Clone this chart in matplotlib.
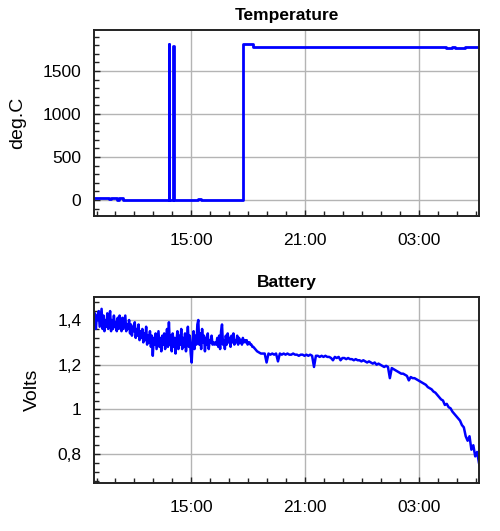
import matplotlib
matplotlib.use('Agg')

import pandas as pd
import matplotlib.pyplot as plt
import matplotlib.dates as mdates
from matplotlib.ticker import AutoMinorLocator, FuncFormatter

plt.rcParams['font.family'] = ['Liberation Sans', 'DejaVu Sans']

# Temperatura (escalones), hora de cada cambio y valor en deg.C
temp_times = ['2010-03-01 09:52', '2010-03-01 10:40', '2010-03-01 10:45', '2010-03-01 11:05',
              '2010-03-01 11:10', '2010-03-01 11:24', '2010-03-01 13:49', '2010-03-01 13:50',
              '2010-03-01 14:03', '2010-03-01 14:04', '2010-03-01 15:22', '2010-03-01 15:30',
              '2010-03-01 17:44', '2010-03-01 18:15', '2010-03-02 04:25', '2010-03-02 04:45',
              '2010-03-02 04:55', '2010-03-02 05:25', '2010-03-02 06:12']
temp_vals = [22, 8, 22, 4, 20, 0, 1810, 0, 1795, 0, 15, 0, 1810, 1785, 1765, 1780, 1765, 1785, 1785]

# Bateria: tramo ruidoso, una lectura cada 3 minutos desde las 09:52
volts_a = [
    1.38, 1.43, 1.36, 1.42, 1.40, 1.44, 1.37, 1.41, 1.45, 1.36,
    1.42, 1.35, 1.40, 1.37, 1.43, 1.36, 1.41, 1.44, 1.35, 1.40,
    1.36, 1.42, 1.37, 1.39, 1.35, 1.41, 1.36, 1.42, 1.38, 1.35,
    1.41, 1.36, 1.39, 1.42, 1.35, 1.38, 1.36, 1.40, 1.34, 1.38,
    1.33, 1.37, 1.35, 1.39, 1.32, 1.36, 1.33, 1.38, 1.31, 1.35,
    1.32, 1.36, 1.30, 1.34, 1.31, 1.37, 1.29, 1.33, 1.30, 1.35,
    1.28, 1.33, 1.24, 1.32, 1.29, 1.34, 1.27, 1.31, 1.35, 1.28,
    1.32, 1.26, 1.33, 1.29, 1.34, 1.27, 1.31, 1.36, 1.28, 1.39,
    1.29, 1.33, 1.26, 1.34, 1.28, 1.32, 1.25, 1.31, 1.35, 1.27,
    1.33, 1.29, 1.36, 1.27, 1.32, 1.28, 1.34, 1.26, 1.31, 1.37,
    1.28, 1.33, 1.25, 1.21, 1.30, 1.35, 1.27, 1.33, 1.29, 1.38,
    1.40, 1.29, 1.34, 1.27, 1.36, 1.30, 1.33, 1.26, 1.32, 1.29,
    1.34, 1.27, 1.31, 1.30, 1.33, 1.29, 1.30, 1.29, 1.30, 1.29,
    1.32, 1.28, 1.33, 1.27, 1.35, 1.38, 1.29, 1.31, 1.27, 1.33,
    1.29, 1.34, 1.30, 1.32, 1.28, 1.33, 1.30, 1.34, 1.29, 1.31,
    1.30, 1.33, 1.29, 1.32, 1.30, 1.31, 1.29, 1.32, 1.30, 1.31,
    1.30, 1.31, 1.29, 1.30, 1.30, 1.29, 1.29, 1.28,
]
# Bateria: tramo suave, una lectura cada 6 minutos desde las 18:16
volts_b = [
    1.28, 1.27, 1.26, 1.255, 1.25, 1.25,
    1.25, 1.21, 1.25, 1.245, 1.25, 1.245, 1.25, 1.215, 1.25, 1.245,
    1.25, 1.245, 1.25, 1.245, 1.245, 1.25, 1.245, 1.245, 1.24, 1.245,
    1.245, 1.24, 1.245, 1.24, 1.245, 1.24, 1.19, 1.24, 1.24, 1.235,
    1.24, 1.235, 1.24, 1.235, 1.235, 1.23, 1.22, 1.235, 1.23, 1.235,
    1.22, 1.23, 1.23, 1.225, 1.23, 1.225, 1.225, 1.22, 1.225, 1.22,
    1.22, 1.215, 1.22, 1.215, 1.21, 1.215, 1.21, 1.205, 1.21, 1.20,
    1.205, 1.20, 1.195, 1.19, 1.195, 1.19, 1.14, 1.185, 1.18, 1.175,
    1.17, 1.165, 1.16, 1.16, 1.155, 1.15, 1.13, 1.145, 1.14, 1.14,
    1.135, 1.13, 1.125, 1.12, 1.115, 1.11, 1.10, 1.095, 1.09, 1.08,
    1.075, 1.065, 1.055, 1.045, 1.04, 1.02, 1.025, 1.01, 1.005, 0.99,
    0.98, 0.97, 0.96, 0.95, 0.93, 0.92, 0.88, 0.86, 0.88, 0.82,
    0.84, 0.79, 0.81, 0.76, 0.73,
]
times_a = pd.date_range('2010-03-01 09:52', periods=len(volts_a), freq='3min')
times_b = pd.date_range('2010-03-01 18:16', periods=len(volts_b), freq='6min')
volt_times = times_a.append(times_b)
volts = volts_a + volts_b

x_min = pd.Timestamp('2010-03-01 09:52')
x_max = pd.Timestamp('2010-03-02 06:10')


def estilo_eje(ax, titulo, etiqueta):
    ax.set_title(titulo, fontsize=12.5, fontweight='bold', pad=7)
    ax.set_ylabel(etiqueta, fontsize=14, labelpad=12)
    ax.set_xlim(x_min, x_max)
    ax.xaxis.set_major_locator(mdates.HourLocator(byhour=[3, 9, 15, 21]))
    ax.xaxis.set_minor_locator(mdates.HourLocator())
    ax.xaxis.set_major_formatter(mdates.DateFormatter('%H:%M'))
    ax.yaxis.set_minor_locator(AutoMinorLocator(5))
    ax.grid(True, which='major', color='#b4b4b4', linewidth=1.0)
    ax.tick_params(which='both', direction='in', top=False, right=False, labelsize=12.5, color='#222222')
    ax.tick_params(which='major', length=4, width=1.0)
    ax.tick_params(which='minor', length=3.5, width=1.0)
    ax.tick_params(axis='x', pad=12)
    ax.tick_params(axis='y', pad=9)
    for s in ax.spines.values():
        s.set_color('#222222')
        s.set_linewidth(1.4)


fig = plt.figure(figsize=(5.0, 5.31), dpi=100)
ax1 = fig.add_axes([0.188, 0.5932, 0.770, 0.3503])
ax2 = fig.add_axes([0.188, 0.0904, 0.770, 0.3503])

ax1.plot(pd.to_datetime(temp_times), temp_vals, drawstyle='steps-post', color='#0000ff', linewidth=2.0)
ax1.set_ylim(-186, 1977)
ax1.set_yticks([0, 500, 1000, 1500])
estilo_eje(ax1, 'Temperature', 'deg.C')

ax2.plot(volt_times, volts, color='#0000ff', linewidth=1.8)
ax2.set_ylim(0.671, 1.503)
ax2.set_yticks([0.8, 1.0, 1.2, 1.4])
ax2.yaxis.set_major_formatter(FuncFormatter(lambda v, p: f'{v:g}'.replace('.', ',')))
estilo_eje(ax2, 'Battery', 'Volts')

fig.savefig('out.png', dpi=100)
